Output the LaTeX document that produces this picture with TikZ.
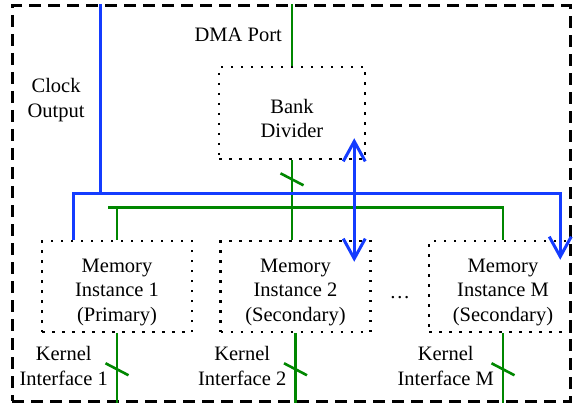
\documentclass[tikz,border=0pt]{standalone}
\usepackage{fontspec}
\setmainfont{Liberation Serif}
\usetikzlibrary{arrows.meta}
\usetikzlibrary{calc}
\usetikzlibrary{positioning}
\definecolor{clkblue}{RGB}{20,60,255}
\definecolor{busgreen}{RGB}{0,135,0}
\newcommand\Tstrut{\rule{0pt}{25pt}}
\newcommand\BusTick[1]{\draw[gline] ($#1+(-11.5,-6)$) -- ($#1+(11.5,6)$);}

\begin{document}
\begin{tikzpicture}[x=1pt,y=-1pt,
>={Straight Barb[length=20pt,width=22pt]},
txt/.style = {align=center, inner sep=0pt, font=\fontsize{20.5}{24.5}\selectfont},
frame/.style = {draw=black, line width=3pt, dash pattern=on 12pt off 7pt, minimum width=558pt, minimum height=395pt, inner sep=0pt},
box/.style = {txt, draw=black, line width=2.5pt, dash pattern=on 2.5pt off 7.5pt, minimum width=150pt, minimum height=91pt},
gline/.style = {draw=busgreen, line width=2.6pt},
bline/.style = {draw=clkblue, line width=3pt}
]
\useasboundingbox (0,0) rectangle (574,404);

\node (frame) [frame] at (291,203.5) {};

\node (bank) [box, minimum width=146pt, minimum height=92pt] at (292,113) {\Tstrut Bank\\Divider};
\node (mem1) [box] at (117,286.5) {\Tstrut Memory\\Instance 1\\(Primary)};
\node (mem2) [box, right=26pt of mem1] {\Tstrut Memory\\Instance 2\\(Secondary)};
\node (memM) [box, minimum width=148pt, right=56pt of mem2] {\Tstrut Memory\\Instance M\\(Secondary)};
\node (dots) [txt] at ($($(mem2.east)!0.5!(memM.west)$)+(0,11)$) {\dots};

% DMA port and bank divider
\coordinate (dma) at (bank.north |- frame.north);
\draw[gline] (dma) -- (bank.north);
\coordinate (dmamid) at ($(dma)!0.5!(bank.north)$);
\node (dmalbl) [txt, left=10pt of dmamid] {DMA Port};
\draw[gline] (bank.south) -- (bank.south |- mem2.north);
\coordinate (t0) at ($(bank.south)!0.24!(bank.south |- mem2.north)$);
\BusTick{(t0)}

% data bus to the instances
\draw[gline] ($(mem1.north)+(-9,-32)$) -| (memM.north);
\draw[gline] (mem1.north) -- ++(0,-32);

% clock
\coordinate (b1) at ($(mem1.north west)+(33,0)$);
\coordinate (bbus) at ($(b1)+(0,-46)$);
\coordinate (clk) at ($(bbus)+(27,0)$);
\draw[bline] (clk) -- (clk |- frame.north);
\coordinate (clkmid) at ($(clk)!0.5!(clk |- frame.north)$);
\node (clklbl) [txt, left=16pt of clkmid, yshift=-1pt] {Clock\\Output};
\draw[bline, ->, shorten >=-20pt] (b1) -- (bbus) -| ($(memM.north east)+(-18,0)$);
\coordinate (dbl) at ($(bank.south east)+(-12,0)$);
\draw[bline, <->, shorten <=-22pt, shorten >=-22pt] (dbl) -- (dbl |- mem2.north);

% kernel interfaces
\foreach \m/\k in {mem1/1, mem2/2, memM/M} {
  \draw[gline] (\m.south) -- (\m.south |- frame.south);
  \coordinate (t\k) at ($(\m.south)!0.52!(\m.south |- frame.south)$);
  \BusTick{(t\k)}
  \node (kif\k) [txt, below left=13pt and 9pt of \m.south] {Kernel\\Interface \k};
}
\end{tikzpicture}
\end{document}
